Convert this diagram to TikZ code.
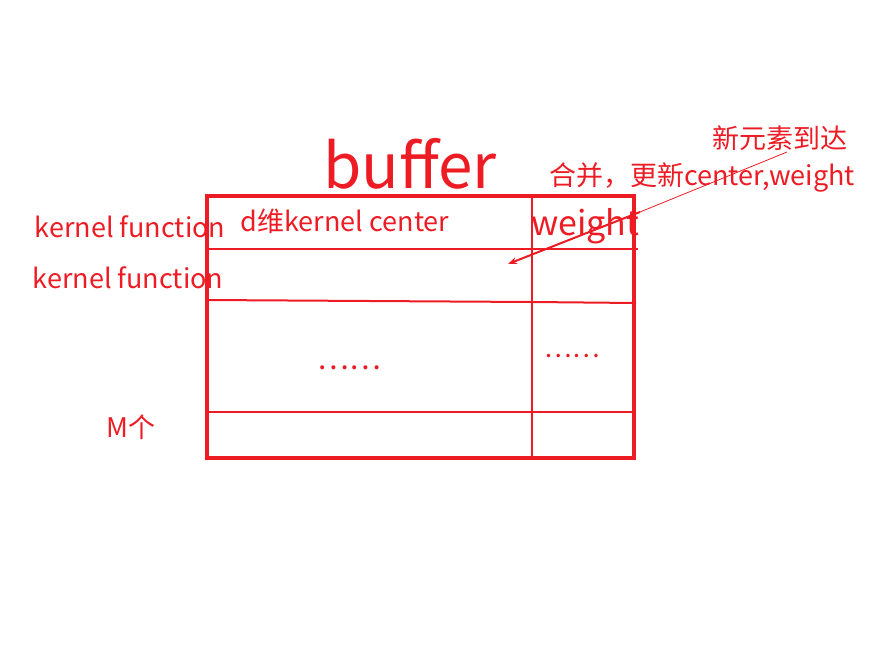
\documentclass[tikz,border=0pt]{standalone}
\usepackage{fontspec}
\setmainfont{Noto Sans CJK SC}
\usetikzlibrary{arrows.meta}
\definecolor{paintred}{HTML}{ED1C24}
\tikzset{
  lbl/.style={text=paintred, inner sep=0pt, font=\fontsize{27}{29}\selectfont},
  rule/.style={paintred, line width=2pt},
}
\begin{document}
\begin{tikzpicture}[x=1pt, y=-1pt]
  \useasboundingbox (0,0) rectangle (884,664);
  % table
  \draw[paintred, line width=4pt] (207,196) rectangle (634,458);
  \draw[rule] (532,196) -- (532,458);
  \draw[rule] (207,249) -- (638,249);
  \draw[rule] (207,300) -- (532,302) -- (636,303);
  \draw[rule] (207,412) -- (634,412);
  % texts
  \node[lbl, font=\fontsize{62}{64}\selectfont] (title) at (410,164) {buffer};
  \node[lbl] (kf1) at (130,227) {kernel function};
  \node[lbl] (kf2) at (128,278) {kernel function};
  \node[lbl] (center) at (345,221) {d维kernel center};
  \node[lbl, font=\fontsize{34}{36}\selectfont] (weight) at (585,226) {weight};
  \node[lbl, font=\fontsize{30}{30}\selectfont] (dots1) at (349,368) {……};
  \node[lbl, font=\fontsize{26}{26}\selectfont] (dots2) at (572,356) {……};
  \node[lbl] (m) at (131,427) {M个};
  \node[lbl] (arrive) at (780,138) {新元素到达};
  \node[lbl] (merge) at (702,177) {合并，更新center,weight};
  % arrow
  \coordinate (hit) at (508,264);
  \draw[paintred, line width=0.8pt] (787,152) -- (640,212);
  \draw[paintred, line width=2pt, -{Stealth[length=9pt,width=7pt]}] (640,212) -- (hit);
\end{tikzpicture}
\end{document}
